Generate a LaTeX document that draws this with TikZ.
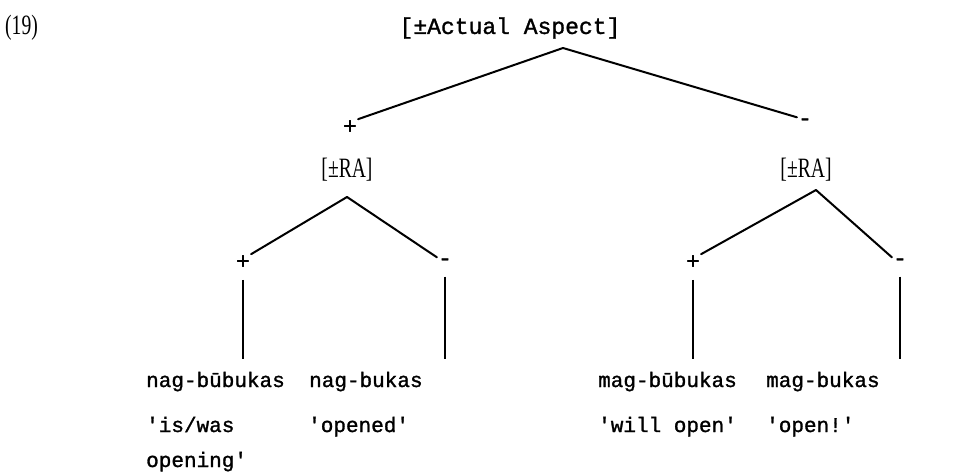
\documentclass[tikz,border=0pt]{standalone}
\usepackage{fontspec}
\setmainfont{Liberation Serif}
\setmonofont[FakeBold=1.3]{Liberation Mono}
\usetikzlibrary{positioning}
\newcommand\narrowed[1]{\scalebox{0.7}[1]{#1}}

\begin{document}
\begin{tikzpicture}[
  x=1pt, y=-1pt,
  word/.style={font=\fontsize{21}{35}\selectfont\ttfamily, inner sep=1pt, anchor=base west, align=left},
  feat/.style={font=\fontsize{28}{30}\selectfont, inner sep=1pt},
  sign/.style={font=\fontsize{23}{25}\selectfont\ttfamily, inner sep=1pt},
  branch/.style={line width=2pt, line cap=round},
  stem/.style={line width=1.5pt, shorten <=10pt, shorten >=12pt}
]
\useasboundingbox[fill=white] (0,0) rectangle (975,472);

% top feature
\node[feat, anchor=west] (num) at (4,28) {\narrowed{(19)}};
\node[sign] (root) at (510,28) {[±Actual Aspect]};
\coordinate (rootfoot) at (563,48);
\node[sign] (plus) at (350,127) {+};
\node[sign] (minus) at (805,122) {-};
\draw[branch] (rootfoot) -- (plus.north east);
\draw[branch] (rootfoot) -- (minus.north west);

% left [RA]
\node[feat] (ralft) at (347,170) {\narrowed{[±RA]}};
\coordinate (ralftfoot) at (347,197);
\node[sign] (pluslft) at (243,262) {+};
\node[sign] (minuslft) at (445,262) {-};
\draw[branch] (ralftfoot) -- (pluslft.north east);
\draw[branch] (ralftfoot) -- (minuslft.north west);

% right [RA]
\node[feat] (rargt) at (806,170) {\narrowed{[±RA]}};
\coordinate (rargtfoot) at (816,190);
\node[sign] (plusrgt) at (693,262) {+};
\node[sign] (minusrgt) at (900,262) {-};
\draw[branch] (rargtfoot) -- (plusrgt.north east);
\draw[branch] (rargtfoot) -- (minusrgt.north west);

% forms
\node[word] (nagbuu) at (145,387) {nag-būbukas};
\node[word] (nagbu) at (308,387) {nag-bukas};
\node[word] (magbuu) at (597,387) {mag-būbukas};
\node[word] (magbu) at (765,387) {mag-bukas};
\draw[stem] (pluslft.south) -- (pluslft.south |- nagbuu.north);
\draw[stem] (minuslft.south) -- (minuslft.south |- nagbu.north);
\draw[stem] (plusrgt.south) -- (plusrgt.south |- magbuu.north);
\draw[stem] (minusrgt.south) -- (minusrgt.south |- magbu.north);

% glosses
\node[word] (glossa) at (145,467) {'is/was\\opening'};
\node[word] (glossb) at (307,432) {'opened'};
\node[word] (glossc) at (597,432) {'will open'};
\node[word] (glossd) at (765,432) {'open!'};
\end{tikzpicture}
\end{document}
